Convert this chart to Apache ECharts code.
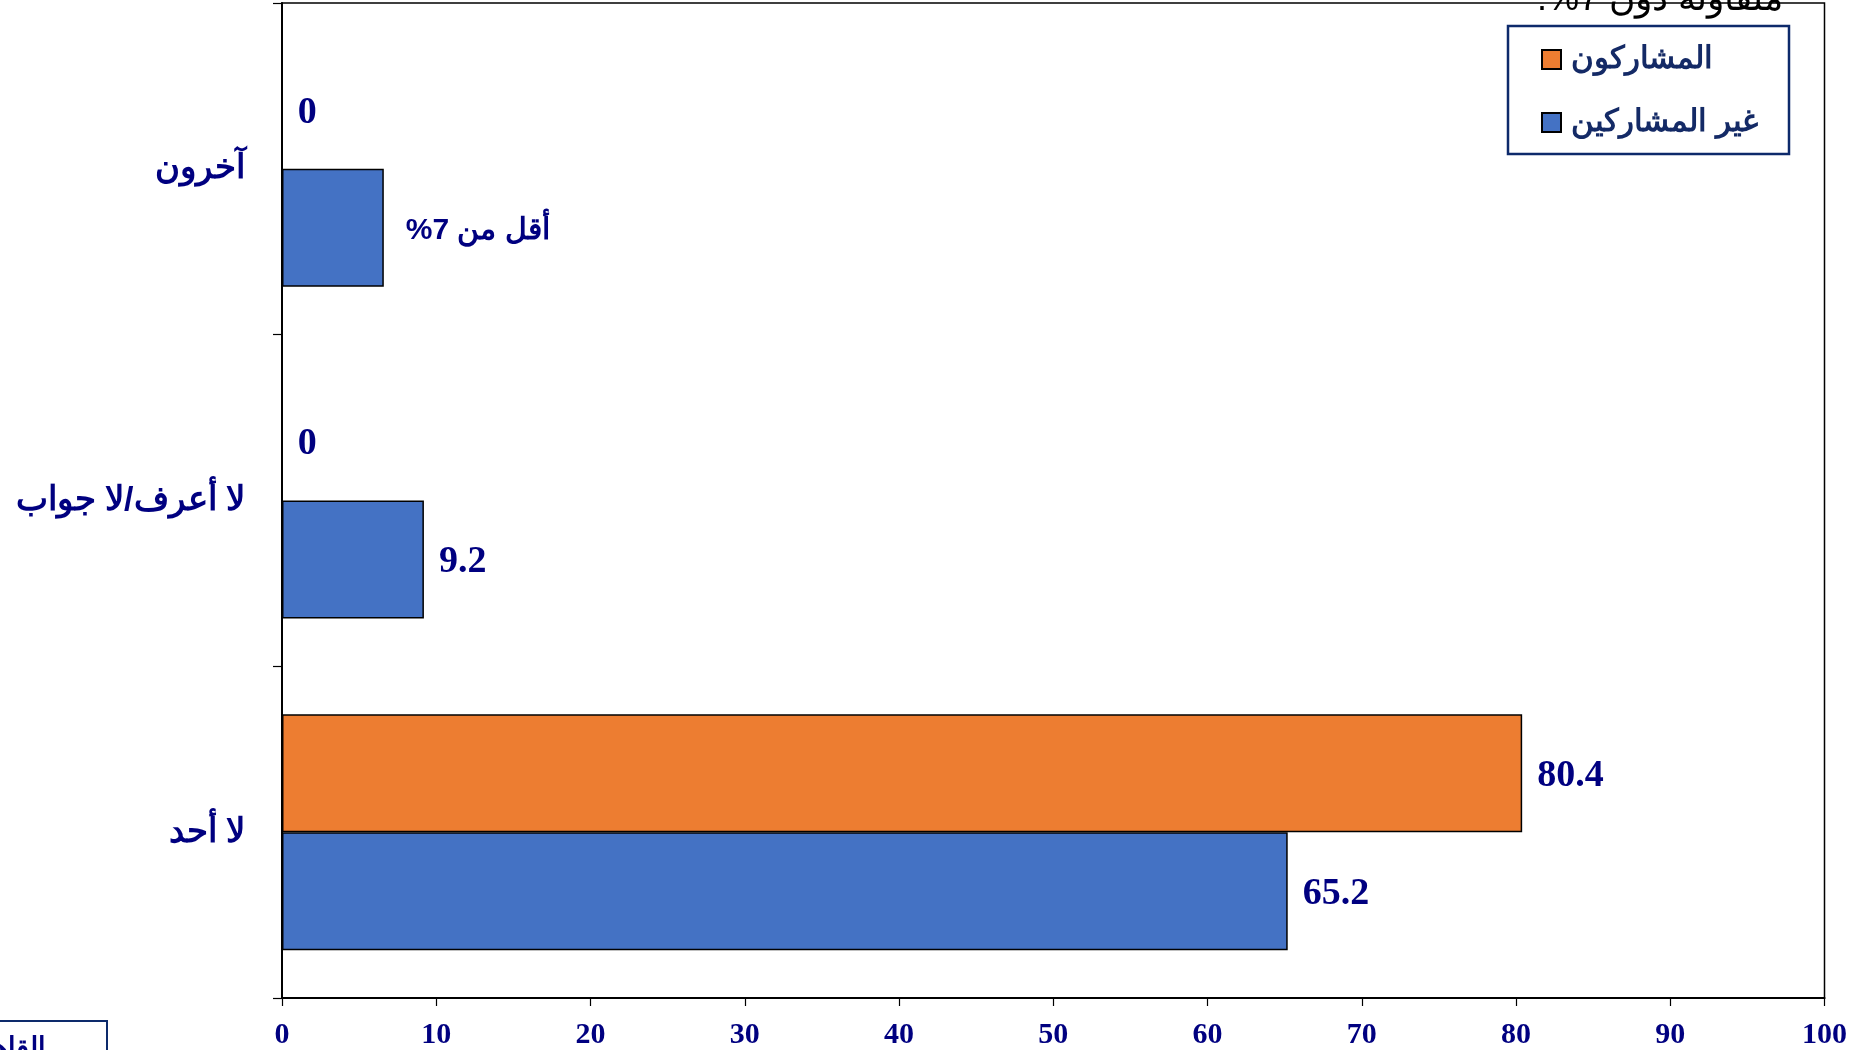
<!DOCTYPE html>
<html lang="ar">
<head>
<meta charset="utf-8">
<script src="https://cdn.jsdelivr.net/npm/echarts@6/dist/echarts.min.js"></script>
<style>
  html, body { margin: 0; padding: 0; background: #fff; }
  #chart { width: 1850px; height: 1050px; direction: rtl; }
</style>
</head>
<body>
<div id="chart"></div>
<script>
// ---- data ----
const categories = ['لا أحد', 'لا أعرف/لا جواب', 'آخرون'];
const seriesNames = ['المشاركون', 'غير المشاركين'];
const participants = [80.4, 0, 0];
const nonParticipants = [65.2, 9.2, 6.6];
const nonParticipantLabels = ['65.2', '9.2', 'أقل من 7%'];
const xTickMin = 0, xTickMax = 100, xTickStep = 10;
const noteText = 'متفاوتة دون 7%.';
const sourceText = 'القاهرة';

const NAVY = '#000080';
const numFont = '"Liberation Serif", "Times New Roman", serif';
const arFont = '"Liberation Sans", Arial, sans-serif';

const chart = echarts.init(document.getElementById('chart'), null, { renderer: 'canvas' });

const blueData = nonParticipants.map((v, i) => {
  const isText = isNaN(Number(nonParticipantLabels[i]));
  return isText
    ? { value: v, label: { fontFamily: arFont, fontSize: 30, distance: 22 } }
    : { value: v };
});

chart.setOption({
  animation: false,
  backgroundColor: '#fff',
  grid: {
    left: 282, right: 20, top: 3, bottom: 51,
    show: true, borderColor: '#000', borderWidth: 1.5, backgroundColor: 'transparent'
  },
  legend: {
    orient: 'vertical',
    left: 1541, top: 44,
    padding: 0,
    itemWidth: 19, itemHeight: 19, itemGap: 32,
    icon: 'rect',
    data: seriesNames,
    textStyle: {
      fontFamily: arFont, fontWeight: 'bold', fontSize: 31, color: '#142a66',
      padding: [0, 0, 0, 5]
    }
  },
  xAxis: {
    type: 'value',
    min: xTickMin, max: xTickMax, interval: xTickStep,
    splitLine: { show: false },
    axisLine: { show: true, lineStyle: { color: '#000', width: 2 } },
    axisTick: { show: true, length: 8, lineStyle: { color: '#000', width: 1.2 } },
    axisLabel: {
      margin: 22, color: NAVY, fontFamily: numFont, fontWeight: 'bold', fontSize: 30
    }
  },
  yAxis: {
    type: 'category',
    data: categories,
    axisLine: { show: true, lineStyle: { color: '#000', width: 2 } },
    axisTick: { show: true, length: 9, lineStyle: { color: '#000', width: 1.2 } },
    axisLabel: {
      margin: 37, color: NAVY, fontFamily: arFont, fontWeight: 'bold', fontSize: 34
    }
  },
  series: [
    {
      name: seriesNames[0],
      type: 'bar',
      data: participants,
      barWidth: 118,
      barGap: '0%',
      itemStyle: { color: '#ED7D31', borderColor: '#000', borderWidth: 1.5 },
      label: {
        show: true, position: 'right', distance: 15, offset: [0, 3],
        color: NAVY, fontFamily: numFont, fontWeight: 'bold', fontSize: 38
      }
    },
    {
      name: seriesNames[1],
      type: 'bar',
      data: blueData,
      barWidth: 118,
      barGap: '0%',
      itemStyle: { color: '#4472C4', borderColor: '#000', borderWidth: 1.5 },
      label: {
        show: true, position: 'right', distance: 15, offset: [0, 3],
        color: NAVY, fontFamily: numFont, fontWeight: 'bold', fontSize: 38,
        formatter: p => nonParticipantLabels[p.dataIndex]
      }
    }
  ],
  graphic: [
    {
      type: 'rect', z: 1,
      shape: { x: 1508, y: 26, width: 281, height: 128 },
      style: { fill: 'rgba(255,255,255,0)', stroke: '#0d2a6b', lineWidth: 2.5 }
    },
    {
      type: 'text', z: 10,
      x: 1783, y: 18,
      style: {
        text: noteText, fill: '#000', font: '36px ' + arFont,
        textAlign: 'right', textVerticalAlign: 'bottom'
      }
    },
    {
      type: 'rect', z: 1,
      shape: { x: -2, y: 1021, width: 109, height: 40 },
      style: { fill: 'rgba(255,255,255,0)', stroke: '#0d2a6b', lineWidth: 2 }
    },
    {
      type: 'text', z: 10,
      x: 46, y: 1035,
      style: {
        text: sourceText, fill: NAVY, font: 'bold 27px ' + arFont,
        textAlign: 'right', textVerticalAlign: 'top'
      }
    }
  ]
});
</script>
</body>
</html>
